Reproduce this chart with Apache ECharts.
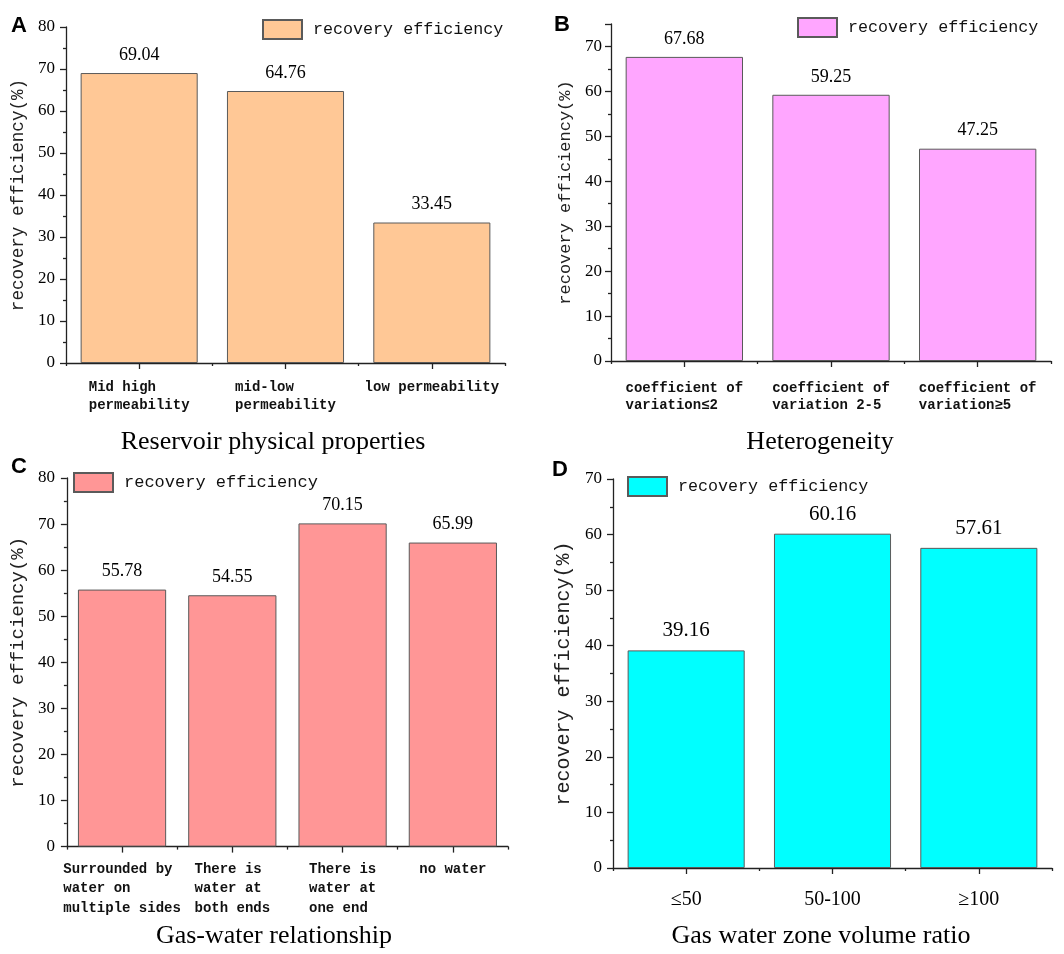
<!DOCTYPE html>
<html>
<head>
<meta charset="utf-8">
<script src="https://cdn.jsdelivr.net/npm/echarts@6/dist/echarts.min.js"></script>
<style>
html,body{margin:0;padding:0;background:#fff;width:1064px;height:954px;overflow:hidden;position:relative;}
.p{position:absolute;}
</style>
</head>
<body>
<div id="pA" class="p" style="left:0;top:0;width:532px;height:460px;"></div>
<div id="pB" class="p" style="left:532px;top:0;width:532px;height:460px;"></div>
<div id="pC" class="p" style="left:0;top:455px;width:532px;height:499px;"></div>
<div id="pD" class="p" style="left:532px;top:455px;width:532px;height:499px;"></div>
<script>
// ---- data ----
const seriesName = 'recovery efficiency';
const yAxisTitle = 'recovery efficiency(%)';

const catsA = ['Mid high\npermeability', 'mid-low\npermeability', 'low permeability'];
const valsA = [69.04, 64.76, 33.45];
const titleA = 'Reservoir physical properties';

const catsB = ['coefficient of\nvariation≤2', 'coefficient of\nvariation 2-5', 'coefficient of\nvariation≥5'];
const valsB = [67.68, 59.25, 47.25];
const titleB = 'Heterogeneity';

const catsC = ['Surrounded by\nwater on\nmultiple sides', 'There is\nwater at\nboth ends', 'There is\nwater at\none end', 'no water'];
const valsC = [55.78, 54.55, 70.15, 65.99];
const titleC = 'Gas-water relationship';

const catsD = ['≤50', '50-100', '≥100'];
const valsD = [39.16, 60.16, 57.61];
const titleD = 'Gas water zone volume ratio';

const yMaxA = 80, yMaxB = 75, yMaxC = 80, yMaxD = 70;
const yStep = 10;

// ---- helpers ----
function padLines(s) {
  const lines = s.split('\n');
  const m = Math.max(...lines.map(l => l.length));
  return lines.map(l => l.padEnd(m, ' ')).join('\n');
}

const SERIF = '"Liberation Serif", "Times New Roman", serif';
const MONO = '"Liberation Mono", "DejaVu Sans Mono", monospace';
const AXIS_COLOR = '#222';

function makePanel(id, c) {
  const chart = echarts.init(document.getElementById(id), null, {renderer: 'canvas'});
  const catFont = c.catSerif
    ? {fontFamily: SERIF, fontSize: c.catSize, color: '#000'}
    : {fontFamily: MONO, fontSize: c.catSize, fontWeight: 'bold', color: '#111', lineHeight: c.catLH};
  const cats = c.catSerif ? c.cats : c.cats.map(padLines);
  chart.setOption({
    animation: false,
    backgroundColor: 'transparent',
    title: {
      text: c.letter, left: c.letterPos[0], top: c.letterPos[1], padding: 0,
      textStyle: {fontFamily: '"Liberation Sans", Arial, sans-serif', fontWeight: 'bold', fontSize: 22, color: '#000'}
    },
    legend: {
      data: [seriesName], left: c.legendPos[0], top: c.legendPos[1], padding: 0,
      itemWidth: 39, itemHeight: 19, icon: 'rect',
      textStyle: {fontFamily: MONO, fontSize: c.legendSize, color: '#111', padding: [0, 0, 0, 6]}
    },
    grid: {left: c.grid[0], top: c.grid[1], right: c.grid[2], bottom: c.grid[3], containLabel: false},
    xAxis: [
      {
        type: 'category', data: cats, position: 'bottom',
        name: c.xTitle, nameLocation: 'middle', nameGap: c.xNameGap,
        nameTextStyle: {fontFamily: SERIF, fontSize: 26, color: '#000', padding: [0, c.xNameShift, 0, 0]},
        axisLine: {show: true, lineStyle: {color: AXIS_COLOR, width: 1.3}},
        axisTick: {show: true, alignWithLabel: true, length: 6, lineStyle: {color: AXIS_COLOR, width: 1.3}},
        axisLabel: Object.assign({interval: 0, margin: c.catMargin}, catFont),
        splitLine: {show: false}
      },
      {
        type: 'category', data: cats, position: 'bottom',
        axisLine: {show: false},
        axisTick: {show: true, length: 3, lineStyle: {color: AXIS_COLOR, width: 1.3}},
        axisLabel: {show: false},
        splitLine: {show: false}
      }
    ],
    yAxis: {
      type: 'value', min: 0, max: c.yMax, interval: yStep,
      name: yAxisTitle, nameLocation: 'middle', nameGap: c.yNameGap, nameRotate: 90,
      nameTextStyle: {fontFamily: MONO, fontSize: c.yNameSize, color: '#222'},
      axisLine: {show: true, lineStyle: {color: AXIS_COLOR, width: 1.3}},
      axisTick: {show: true, length: 6, lineStyle: {color: AXIS_COLOR, width: 1.3}},
      minorTick: {show: true, splitNumber: 2, length: 3, lineStyle: {color: AXIS_COLOR, width: 1.3}},
      axisLabel: {fontFamily: SERIF, fontSize: c.yLabelSize, color: '#000', margin: c.yLabelMargin, showMaxLabel: c.showMax},
      splitLine: {show: false}
    },
    series: [{
      name: seriesName, type: 'bar', data: c.vals, xAxisIndex: 0,
      barCategoryGap: '20%',
      itemStyle: {color: c.color, borderColor: '#5a5a5a', borderWidth: 1},
      label: {
        show: true, position: 'top', distance: c.valDist,
        fontFamily: SERIF, fontSize: c.valSize, color: '#000',
        formatter: p => p.value.toFixed(2)
      }
    }]
  });
  return chart;
}

makePanel('pA', {
  letter: 'A', letterPos: [11, 15], legendPos: [262, 19], legendSize: 16.7,
  grid: [66, 27, 27, 97], cats: catsA, vals: valsA, yMax: yMaxA, showMax: true,
  xTitle: titleA, xNameGap: 66, xNameShift: 25,
  catSize: 14, catLH: 18, catMargin: 15,
  yNameGap: 32, yNameSize: 17.6, yLabelSize: 17, yLabelMargin: 11,
  color: '#FFC896', valDist: 9, valSize: 18
});
makePanel('pB', {
  letter: 'B', letterPos: [22, 14], legendPos: [265, 17], legendSize: 16.7,
  grid: [79, 24, 13, 99], cats: catsB, vals: valsB, yMax: yMaxB, showMax: false,
  xTitle: titleB, xNameGap: 68, xNameShift: 22,
  catSize: 14, catLH: 17, catMargin: 19,
  yNameGap: 31, yNameSize: 17, yLabelSize: 17, yLabelMargin: 9,
  color: '#FFA6FF', valDist: 9, valSize: 18
});
makePanel('pC', {
  letter: 'C', letterPos: [11, 1], legendPos: [73, 17], legendSize: 17,
  grid: [63, 23, 24, 103], cats: catsC, vals: valsC, yMax: yMaxC, showMax: true,
  xTitle: titleC, xNameGap: 76, xNameShift: 27,
  catSize: 14, catLH: 19.5, catMargin: 13,
  yNameGap: 33, yNameSize: 19, yLabelSize: 17, yLabelMargin: 12,
  color: '#FF9696', valDist: 9, valSize: 18
});
makePanel('pD', {
  letter: 'D', letterPos: [20, 4], legendPos: [95, 21], legendSize: 16.7,
  grid: [81, 24, 12, 80], cats: catsD, vals: valsD, yMax: yMaxD, showMax: true, catSerif: true,
  xTitle: titleD, xNameGap: 55, xNameShift: 23,
  catSize: 20, catLH: 20, catMargin: 22,
  yNameGap: 33, yNameSize: 20, yLabelSize: 17, yLabelMargin: 11,
  color: '#00FFFF', valDist: 9, valSize: 21
});
</script>
</body>
</html>
